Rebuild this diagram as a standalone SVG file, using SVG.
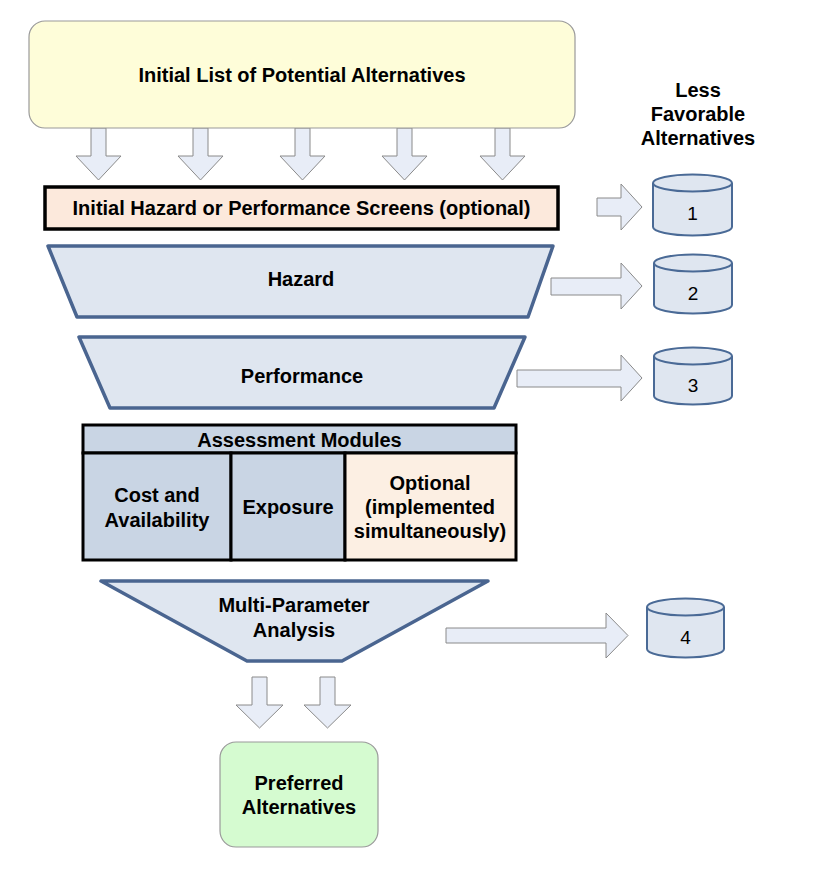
<svg xmlns="http://www.w3.org/2000/svg" width="831" height="881" viewBox="0 0 831 881">
<defs>
<style>
text{font-family:"Liberation Sans",Arial,sans-serif;font-weight:bold;font-size:20px;fill:#000;text-anchor:middle;dominant-baseline:central}
.num{font-weight:normal;font-size:19px}
.arr{fill:#e8edf7;stroke:#8a8a8a;stroke-width:1}
.cyl{fill:#dfe6f0;stroke:#4a6a96;stroke-width:2}
.trap{fill:#dfe6f0;stroke:#4a6590;stroke-width:3.5;stroke-linejoin:round}
.cell{stroke:#000;stroke-width:3}
</style>
</defs>
<rect width="831" height="881" fill="#fff"/>

<g id="connectors">
  <path class="arr" d="M91,128 H106 V156 H121 L98.5,180 L76,156 H91 Z"/>
  <path class="arr" d="M193,128 H208 V156 H223 L200.5,180 L178,156 H193 Z"/>
  <path class="arr" d="M295,128 H310 V156 H325 L302.5,180 L280,156 H295 Z"/>
  <path class="arr" d="M397,128 H412 V156 H427 L404.5,180 L382,156 H397 Z"/>
  <path class="arr" d="M495,128 H510 V156 H525 L502.5,180 L480,156 H495 Z"/>
  <path class="arr" d="M597,198 H621 V184 L642,207 L621,230 V216 H597 Z"/>
  <path class="arr" d="M551,278 H621 V263 L642,286 L621,309 V295 H551 Z"/>
  <path class="arr" d="M517,370 H621 V355 L642,378 L621,401 V387 H517 Z"/>
  <path class="arr" d="M446,628 H606 V613 L628,635.5 L606,658 V643 H446 Z"/>
  <path class="arr" d="M252,677 H267 V705 H283 L259.5,728 L236,705 H252 Z"/>
  <path class="arr" d="M320,677 H335 V705 H351 L327.5,728 L304,705 H320 Z"/>
</g>

<g id="initial-list">
  <rect x="29" y="21" width="546" height="107" rx="16" fill="#fefdd9" stroke="#9a9a9a" stroke-width="1.2"/>
  <text x="302" y="75">Initial List of Potential Alternatives</text>
</g>

<g id="initial-screens">
  <rect x="45" y="187" width="513" height="42" fill="#fce9dc" stroke="#000" stroke-width="3.5"/>
  <text x="301.5" y="208">Initial Hazard or Performance Screens (optional)</text>
</g>

<g id="hazard">
  <polygon class="trap" points="48,246 553,246 528,317 77,317"/>
  <text x="301" y="279">Hazard</text>
</g>

<g id="performance">
  <polygon class="trap" points="79,337 525,337 494,408 110,408"/>
  <text x="302" y="376">Performance</text>
</g>

<g id="assessment-modules">
  <rect class="cell" x="83" y="425" width="433" height="28" fill="#c9d5e4"/>
  <rect class="cell" x="83" y="453" width="148" height="107" fill="#c9d5e4"/>
  <rect class="cell" x="231" y="453" width="114" height="107" fill="#c9d5e4"/>
  <rect class="cell" x="345" y="453" width="171" height="107" fill="#fcefe3"/>
  <text x="299.5" y="440">Assessment Modules</text>
  <text x="157" y="495">Cost and</text>
  <text x="157" y="520">Availability</text>
  <text x="288" y="507">Exposure</text>
  <text x="430" y="483">Optional</text>
  <text x="430" y="507">(implemented</text>
  <text x="430" y="531">simultaneously)</text>
</g>

<g id="multi-parameter">
  <polygon class="trap" points="101,581 488,581 342,661 247,661"/>
  <text x="294" y="605">Multi-Parameter</text>
  <text x="294" y="630">Analysis</text>
</g>

<g id="preferred">
  <rect x="220" y="742" width="158" height="105" rx="16" fill="#d5fbd0" stroke="#9a9a9a" stroke-width="1.2"/>
  <text x="299" y="783">Preferred</text>
  <text x="299" y="807">Alternatives</text>
</g>

<g id="less-favorable-label">
  <text x="698" y="90">Less</text>
  <text x="698" y="114">Favorable</text>
  <text x="698" y="138">Alternatives</text>
</g>

<g id="bin-1">
  <path class="cyl" d="M653,183 V227 A39.5,8.5 0 0 0 732,227 V183"/>
  <ellipse class="cyl" cx="692.5" cy="183" rx="39.5" ry="8.5"/>
  <text class="num" x="692.5" y="213">1</text>
</g>
<g id="bin-2">
  <path class="cyl" d="M654,263 V305 A39,8.5 0 0 0 732,305 V263"/>
  <ellipse class="cyl" cx="693" cy="263" rx="39" ry="8.5"/>
  <text class="num" x="693" y="293">2</text>
</g>
<g id="bin-3">
  <path class="cyl" d="M654,356 V396 A39,8.5 0 0 0 732,396 V356"/>
  <ellipse class="cyl" cx="693" cy="356" rx="39" ry="8.5"/>
  <text class="num" x="693" y="385">3</text>
</g>
<g id="bin-4">
  <path class="cyl" d="M647,607 V649 A38.5,8.5 0 0 0 724,649 V607"/>
  <ellipse class="cyl" cx="685.5" cy="607" rx="38.5" ry="8.5"/>
  <text class="num" x="685.5" y="637">4</text>
</g>
</svg>
